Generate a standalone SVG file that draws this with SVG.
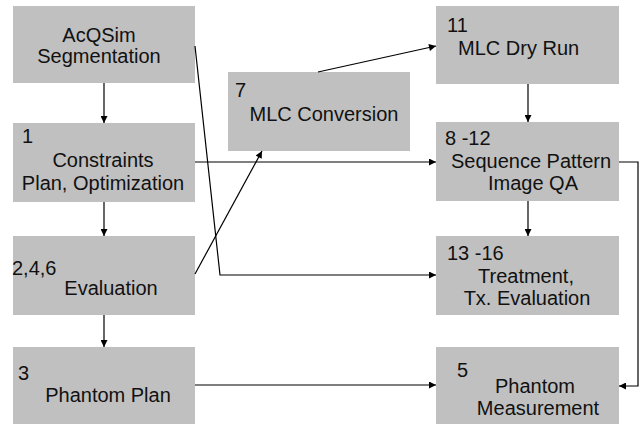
<svg xmlns="http://www.w3.org/2000/svg" width="644" height="425" viewBox="0 0 644 425">
<style>
.box{fill:#c0c0c0;}
text{font-family:"Liberation Sans",Arial,sans-serif;font-size:20px;fill:#111;}
.c{text-anchor:middle;}
.ln{stroke:#000;stroke-width:1.2;fill:none;}
</style>
<defs>
<marker id="ah" viewBox="0 0 10 10" refX="10" refY="5" markerWidth="8" markerHeight="7" markerUnits="userSpaceOnUse" orient="auto">
<path d="M0,0 L10,5 L0,10 z" fill="#000"/>
</marker>
</defs>
<rect width="644" height="425" fill="#fff"/>
<g id="n-acqsim"><rect class="box" x="13" y="6" width="182" height="77"/><text class="c" x="99" y="42">AcQSim</text><text class="c" x="99" y="63">Segmentation</text></g>
<g id="n-1"><rect class="box" x="13" y="123" width="182" height="79"/><text x="22" y="143">1</text><text class="c" x="103" y="167">Constraints</text><text class="c" x="103" y="190">Plan, Optimization</text></g>
<g id="n-246"><rect class="box" x="13" y="236" width="182" height="79"/><text x="12" y="275">2,4,6</text><text class="c" x="111" y="295">Evaluation</text></g>
<g id="n-3"><rect class="box" x="13" y="347" width="182" height="77"/><text x="18" y="380">3</text><text class="c" x="108" y="402">Phantom Plan</text></g>
<g id="n-7"><rect class="box" x="228" y="72" width="182" height="79"/><text x="235" y="97">7</text><text class="c" x="324" y="121">MLC Conversion</text></g>
<g id="n-11"><rect class="box" x="436" y="6" width="183" height="78"/><text x="447" y="32">11</text><text x="458" y="55">MLC Dry Run</text></g>
<g id="n-812"><rect class="box" x="436" y="122" width="183" height="79"/><text x="445" y="145">8 -12</text><text class="c" x="531" y="168">Sequence Pattern</text><text class="c" x="533" y="190">Image QA</text></g>
<g id="n-1316"><rect class="box" x="436" y="236" width="183" height="79"/><text x="447" y="260">13 -16</text><text class="c" x="526" y="283">Treatment,</text><text class="c" x="527" y="305">Tx. Evaluation</text></g>
<g id="n-5"><rect class="box" x="436" y="347" width="183" height="77"/><text x="457" y="377">5</text><text class="c" x="535" y="393">Phantom</text><text class="c" x="538" y="415">Measurement</text></g>
<g id="connectors">
<line class="ln" x1="104" y1="83" x2="104" y2="123" marker-end="url(#ah)"/>
<line class="ln" x1="104" y1="202" x2="104" y2="236" marker-end="url(#ah)"/>
<line class="ln" x1="104" y1="315" x2="104" y2="347" marker-end="url(#ah)"/>
<line class="ln" x1="528" y1="84" x2="528" y2="122" marker-end="url(#ah)"/>
<line class="ln" x1="528" y1="201" x2="528" y2="236" marker-end="url(#ah)"/>
<line class="ln" x1="195" y1="162" x2="436" y2="162" marker-end="url(#ah)"/>
<polyline class="ln" points="195,46 220,275 436,275" marker-end="url(#ah)"/>
<line class="ln" x1="195" y1="274" x2="262" y2="151" marker-end="url(#ah)"/>
<line class="ln" x1="318" y1="72" x2="436" y2="46" marker-end="url(#ah)"/>
<polyline class="ln" points="619,162 638,162 638,386 619,386" marker-end="url(#ah)"/>
<line class="ln" x1="195" y1="385" x2="436" y2="385" marker-end="url(#ah)"/>
</g>
</svg>
